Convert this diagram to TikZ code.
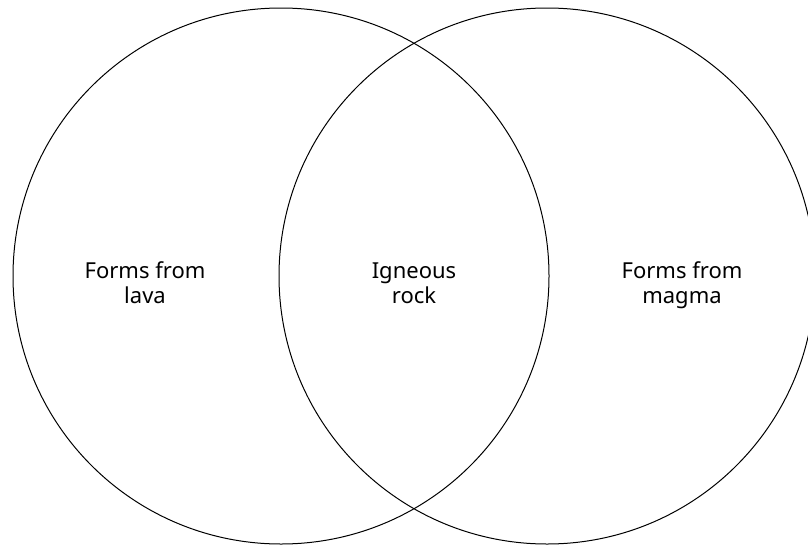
\documentclass[tikz,border=0pt]{standalone}
\usepackage{fontspec}
\setmainfont{Noto Sans}
\tikzset{
  setcircle/.style={circle, draw=black, line width=1pt, minimum size=536pt, inner sep=0pt},
  setlabel/.style={align=center, font=\fontsize{22pt}{24.5pt}\selectfont, text=black, inner sep=0pt}
}
\begin{document}
\begin{tikzpicture}[x=1pt,y=1pt]
\useasboundingbox (0,0) rectangle (808,-546);
\clip (0,0) rectangle (808,-546);
\node[setcircle] (left) at (281,-276) {};
\node[setcircle] (right) at (547,-276) {};
\node[setlabel] (lava) at (145,-286) {\strut Forms from\\\strut lava};
\node[setlabel] (igneous) at (414,-286) {\strut Igneous\\\strut rock};
\node[setlabel] (magma) at (682,-286) {\strut Forms from\\\strut magma};
\end{tikzpicture}
\end{document}
